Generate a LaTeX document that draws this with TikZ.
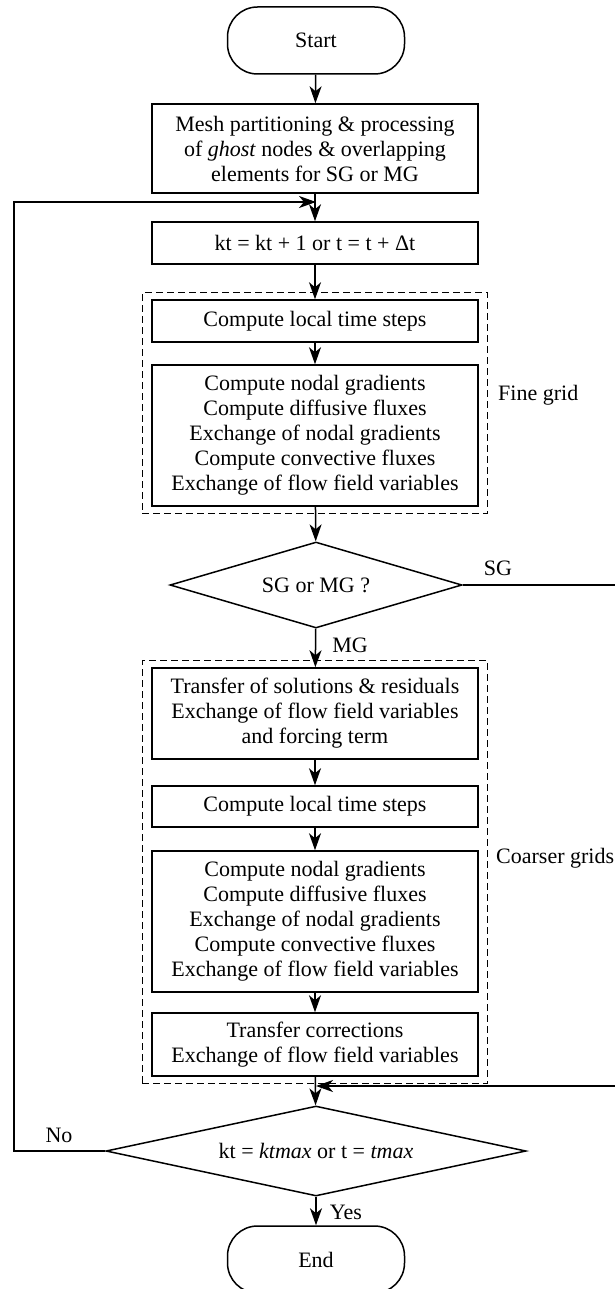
\documentclass[tikz,border=0pt]{standalone}
\usepackage{fontspec}
\setmainfont{Liberation Serif}
\usetikzlibrary{shapes.geometric,arrows.meta,fit}

\begin{document}
\begin{tikzpicture}[x=1pt, y=-1pt,
  every node/.style={font=\fontsize{22}{25}\selectfont, inner sep=0pt},
  box/.style={draw, line width=1.5pt, minimum width=326pt, align=center},
  term/.style={draw, line width=1.5pt, rounded corners=30pt, minimum width=177pt, minimum height=67pt},
  test/.style={draw, diamond, line width=1.5pt, inner sep=0pt},
  grid/.style={draw, dash pattern=on 7pt off 4pt, line width=1.4pt, inner xsep=9pt, inner ysep=6.5pt},
  flow/.style={line width=1.5pt, -{Stealth[length=17pt, width=12pt, inset=5pt]}}]
  \useasboundingbox (0,0) rectangle (614,1289);

  \node[term] (start) at (316,40.5) {Start};
  \node[box, minimum height=89pt] (mesh) at (315,148.5) {Mesh partitioning \& processing\\of \textit{ghost} nodes \& overlapping\\elements for SG or MG};
  \node[box, minimum height=42pt] (step) at (315,243) {kt = kt + 1 or t = t + Δt};

  \node[box, minimum height=42pt] (dt1) at (315,321) {Compute local time steps};
  \node[box, minimum height=141pt] (flux1) at (315,435.5) {Compute nodal gradients\\Compute diffusive fluxes\\Exchange of nodal gradients\\Compute convective fluxes\\Exchange of flow field variables};
  \node[grid, fit=(dt1) (flux1)] (fine) {};
  \node[anchor=west] (finelbl) at (498,395) {Fine grid};

  \node[test, aspect=3.4, minimum width=292pt, minimum height=86pt] (choice) at (316,585) {SG or MG ?};
  \node (sglbl) at (498,568) {SG};
  \node (mglbl) at (350,645) {MG};

  \node[box, minimum height=91pt] (restrict) at (315,713.5) {Transfer of solutions \& residuals\\Exchange of flow field variables\\and forcing term};
  \node[box, minimum height=41pt] (dt2) at (315,806.5) {Compute local time steps};
  \node[box, minimum height=141pt] (flux2) at (315,921.5) {Compute nodal gradients\\Compute diffusive fluxes\\Exchange of nodal gradients\\Compute convective fluxes\\Exchange of flow field variables};
  \node[box, minimum height=63pt] (prolong) at (315,1044.5) {Transfer corrections\\Exchange of flow field variables};
  \node[grid, fit=(restrict) (prolong)] (coarse) {};
  \node[anchor=west] (coarselbl) at (496,858) {Coarser grids};

  \node[test, aspect=4.67, minimum width=420pt, minimum height=90pt] (check) at (316,1151) {kt = \textit{ktmax} or t = \textit{tmax}};
  \node (nolbl) at (59,1135) {No};
  \node (yeslbl) at (346,1212) {Yes};
  \node[term] (stop) at (316,1259.5) {End};

  \coordinate (loopin) at (316,202);
  \coordinate (loopout) at (14,1151);
  \coordinate (sgout) at (618,585);
  \coordinate (sgin) at (316,1086);

  \draw[flow] (start) -- (mesh);
  \draw[flow] (mesh) -- (step);
  \draw[flow] (step) -- (dt1);
  \draw[flow] (dt1) -- (flux1);
  \draw[flow] (flux1) -- (choice);
  \draw[flow] (choice) -- (restrict);
  \draw[flow] (restrict) -- (dt2);
  \draw[flow] (dt2) -- (flux2);
  \draw[flow] (flux2) -- (prolong);
  \draw[flow] (prolong) -- (check);
  \draw[flow] (check) -- (stop);
  \draw[flow] (check.west) -- (loopout) |- (loopin);
  \draw[flow] (choice.east) -- (sgout) |- (sgin);
\end{tikzpicture}
\end{document}
